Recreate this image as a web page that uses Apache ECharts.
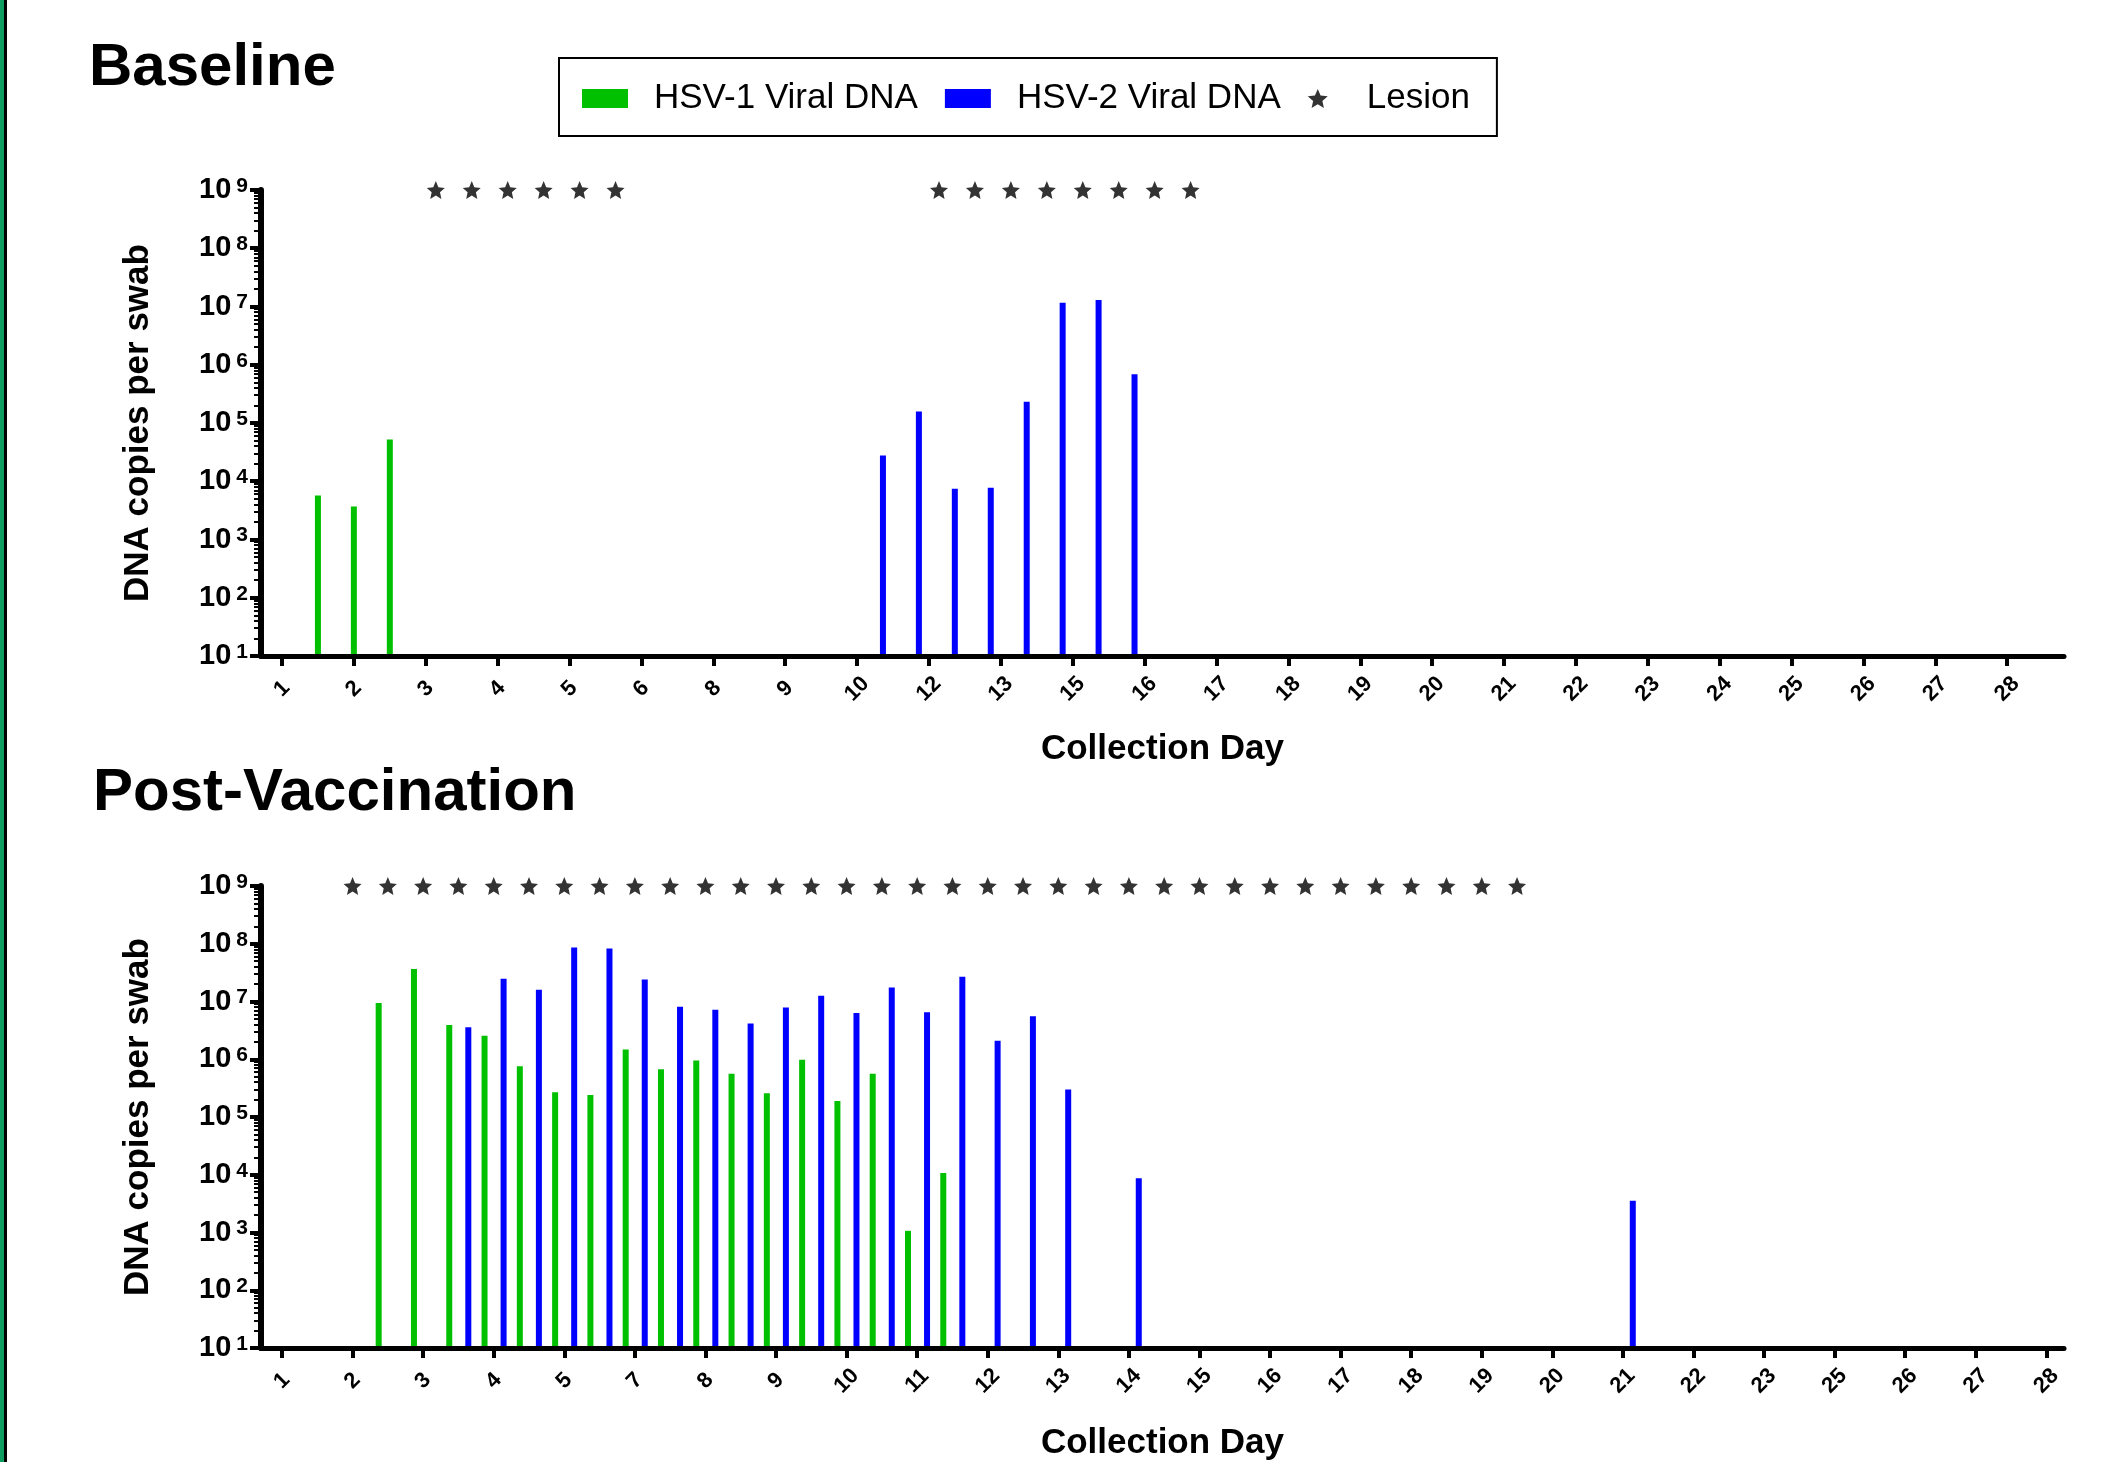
<!DOCTYPE html>
<html>
<head>
<meta charset="utf-8">
<script src="https://cdn.jsdelivr.net/npm/echarts@6/dist/echarts.min.js"></script>
<style>
  html, body { margin: 0; padding: 0; background: #fff; }
  #chart { width: 2114px; height: 1462px; }
</style>
</head>
<body>
<div id="chart"></div>
<script>
// x tick labels (collection days actually sampled)
const baseDayLabels = ['1','2','3','4','5','6','8','9','10','12','13','15','16','17','18','19','20','21','22','23','24','25','26','27','28'];
const postDayLabels = ['1','2','3','4','5','7','8','9','10','11','12','13','14','15','16','17','18','19','20','21','22','23','25','26','27','28'];
const yTickValues = [1e1, 1e2, 1e3, 1e4, 1e5, 1e6, 1e7, 1e8, 1e9];

// baseline, positions are in tick units along the x axis
const baseHsv1Pos = [0.5, 1.0, 1.5];
const baseHsv1 = [5700, 3700, 52000];
const baseHsv2Pos = [8.36, 8.86, 9.36, 9.86, 10.36, 10.86, 11.36, 11.86];
const baseHsv2 = [27800, 157000, 7400, 7700, 231000, 11600000, 12900000, 690000];
const baseLesionPos = [2.14, 2.64, 3.14, 3.64, 4.14, 4.64, 9.14, 9.64, 10.14, 10.64, 11.14, 11.64, 12.14, 12.64];

// post-vaccination
const postHsv1Pos = [1.37, 1.87, 2.37, 2.87, 3.37, 3.87, 4.37, 4.87, 5.37, 5.87, 6.37, 6.87, 7.37, 7.87, 8.37, 8.87, 9.37];
const postHsv1 = [9.4e6, 3.64e7, 3.93e6, 2.54e6, 7.6e5, 2.68e5, 2.41e5, 1.47e6, 6.7e5, 9.5e5, 5.6e5, 2.59e5, 9.8e5, 1.9e5, 5.6e5, 1.07e3, 1.07e4];
const postHsv2Pos = [2.64, 3.14, 3.64, 4.14, 4.64, 5.14, 5.64, 6.14, 6.64, 7.14, 7.64, 8.14, 8.64, 9.14, 9.64, 10.14, 10.64, 11.14, 12.14, 19.14];
const postHsv2 = [3.58e6, 2.48e7, 1.6e7, 8.6e7, 8.3e7, 2.4e7, 8.1e6, 7.2e6, 4.15e6, 7.85e6, 1.26e7, 6.3e6, 1.75e7, 6.5e6, 2.67e7, 2.1e6, 5.56e6, 3.0e5, 8.7e3, 3.56e3];
const postLesionPos = [1, 1.5, 2, 2.5, 3, 3.5, 4, 4.5, 5, 5.5, 6, 6.5, 7, 7.5, 8, 8.5, 9, 9.5, 10, 10.5, 11, 11.5, 12, 12.5, 13, 13.5, 14, 14.5, 15, 15.5, 16, 16.5, 17, 17.5];
const lesionLevel = 1e9;

const GREEN = '#00c000';
const BLUE = '#0000ff';
const FONT = 'Liberation Sans, Arial, sans-serif';
const STAR = 'path://M0,-10 L2.7,-3.7 L9.51,-3.09 L4.4,1.43 L5.88,8.09 L0,4.6 L-5.88,8.09 L-4.4,1.43 L-9.51,-3.09 L-2.7,-3.7 Z';

// log-style minor ticks 2..9 in each decade
const minorTicks = [];
for (let d = 1; d < 9; d++) {
  for (let k = 2; k <= 9; k++) minorTicks.push(k * Math.pow(10, d));
}

const pairs = (xs, ys) => xs.map((x, i) => [x, ys[i]]);

function xAxisFor(gridIndex, labels, min, max, gap) {
  const idx = labels.map((_, i) => i);
  return {
    type: 'value', gridIndex: gridIndex, min: min, max: max, z: 3,
    name: 'Collection Day', nameLocation: 'middle', nameGap: gap,
    nameTextStyle: { fontFamily: FONT, fontWeight: 'bold', fontSize: 35, color: '#000' },
    axisLine: { show: true, onZero: false, lineStyle: { color: '#000', width: 5 } },
    axisTick: { show: true, customValues: idx, length: 10, lineStyle: { color: '#000', width: 4 } },
    axisLabel: {
      customValues: idx, rotate: 45, align: 'center', verticalAlign: 'middle', margin: 33,
      fontFamily: FONT, fontWeight: 'bold', fontSize: 22, color: '#000',
      formatter: v => labels[Math.round(v)]
    },
    splitLine: { show: false }
  };
}

function yAxisMain(gridIndex) {
  return {
    type: 'log', logBase: 10, gridIndex: gridIndex, min: 10, max: 1e9, position: 'left', z: 3,
    name: 'DNA copies per swab', nameLocation: 'middle', nameGap: 105,
    nameTextStyle: { fontFamily: FONT, fontWeight: 'bold', fontSize: 35, color: '#000' },
    axisLine: { show: true, onZero: false, lineStyle: { color: '#000', width: 6 } },
    axisTick: { show: true, customValues: yTickValues, length: 11, lineStyle: { color: '#000', width: 4 } },
    axisLabel: {
      customValues: yTickValues, margin: 13, color: '#000', fontSize: 29, fontWeight: 'bold',
      formatter: v => '{b|10}{s|' + Math.round(Math.log10(v)) + '}',
      rich: {
        b: { fontFamily: FONT, fontWeight: 'bold', fontSize: 29, color: '#000' },
        s: { fontFamily: FONT, fontWeight: 'bold', fontSize: 21, color: '#000', verticalAlign: 'top', padding: [0, 0, 0, 5] }
      }
    },
    splitLine: { show: false }
  };
}

function yAxisMinor(gridIndex) {
  return {
    type: 'log', logBase: 10, gridIndex: gridIndex, min: 10, max: 1e9, position: 'left', z: 3,
    axisLine: { show: false, onZero: false },
    axisTick: { show: true, customValues: minorTicks, length: 7, lineStyle: { color: '#000', width: 2 } },
    axisLabel: { show: false },
    splitLine: { show: false }
  };
}

function barSeries(name, color, xi, yi, data) {
  return {
    name: name, type: 'bar', xAxisIndex: xi, yAxisIndex: yi, barWidth: 6, barGap: '-100%',
    clip: true, itemStyle: { color: color }, data: data
  };
}

function lesionSeries(xi, yi, xs) {
  return {
    name: 'Lesion', type: 'scatter', xAxisIndex: xi, yAxisIndex: yi, clip: false,
    symbol: STAR, symbolSize: 18, itemStyle: { color: '#000' },
    data: xs.map(x => [x, lesionLevel])
  };
}

const chart = echarts.init(document.getElementById('chart'));
chart.setOption({
  backgroundColor: '#fff',
  animation: false,
  title: [
    { text: 'Baseline', left: 89, top: 37, padding: 0,
      textStyle: { fontFamily: FONT, fontWeight: 'bold', fontSize: 60, lineHeight: 62, color: '#000' } },
    { text: 'Post-Vaccination', left: 93, top: 762, padding: 0,
      textStyle: { fontFamily: FONT, fontWeight: 'bold', fontSize: 60, lineHeight: 62, color: '#000' } }
  ],
  legend: {
    left: 559, top: 58, orient: 'horizontal',
    padding: [23, 27, 20, 23], itemGap: 27, itemWidth: 46, itemHeight: 19,
    borderColor: '#000', borderWidth: 2,
    textStyle: { fontFamily: FONT, fontSize: 35, color: '#000', padding: [0, 0, 0, 21] },
    data: [
      { name: 'HSV-1 Viral DNA', icon: 'rect' },
      { name: 'HSV-2 Viral DNA', icon: 'rect' },
      { name: 'Lesion', icon: STAR }
    ]
  },
  graphic: [
    { type: 'rect', left: 0, top: 0, shape: { width: 4, height: 1462 }, style: { fill: '#0e9c60' } },
    { type: 'rect', left: 4, top: 0, shape: { width: 3, height: 1462 }, style: { fill: '#000' } }
  ],
  grid: [
    { left: 261, top: 190, width: 1803, height: 466 },
    { left: 261, top: 886, width: 1803, height: 465 }
  ],
  xAxis: [
    xAxisFor(0, baseDayLabels, -0.292, 24.79, 76),
    xAxisFor(1, postDayLabels, -0.2975, 25.25, 78)
  ],
  yAxis: [yAxisMain(0), yAxisMinor(0), yAxisMain(1), yAxisMinor(1)],
  series: [
    barSeries('HSV-1 Viral DNA', GREEN, 0, 0, pairs(baseHsv1Pos, baseHsv1)),
    barSeries('HSV-2 Viral DNA', BLUE, 0, 0, pairs(baseHsv2Pos, baseHsv2)),
    lesionSeries(0, 0, baseLesionPos),
    barSeries('HSV-1 Viral DNA', GREEN, 1, 2, pairs(postHsv1Pos, postHsv1)),
    barSeries('HSV-2 Viral DNA', BLUE, 1, 2, pairs(postHsv2Pos, postHsv2)),
    lesionSeries(1, 2, postLesionPos)
  ]
});
</script>
</body>
</html>
